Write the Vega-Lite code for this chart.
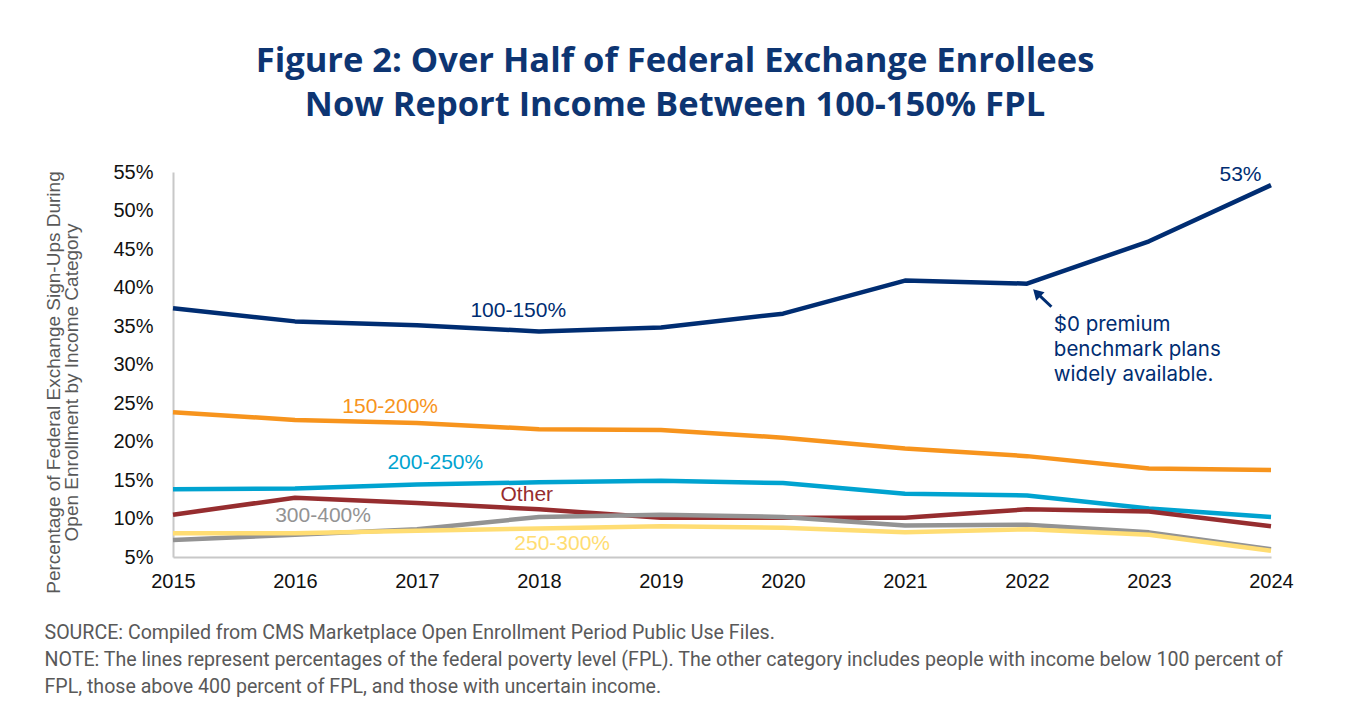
{
  "$schema": "https://vega.github.io/schema/vega-lite/v6.json",
  "width": 1098,
  "height": 385,
  "autosize": {"type": "none"},
  "padding": {"left": 173, "top": 172, "right": 78, "bottom": 168},
  "background": "white",
  "config": {"view": {"stroke": null}},
  "title": {
    "text": ["Figure 2: Over Half of Federal Exchange Enrollees", "Now Report Income Between 100-150% FPL"],
    "anchor": "middle",
    "frame": "group",
    "dx": -47,
    "offset": 39,
    "font": "Open Sans",
    "fontSize": 34.5,
    "fontWeight": "bold",
    "color": "#0D3572",
    "lineHeight": 44
  },
  "datasets": {
    "series": [
      {"group": "100-150%", "year": 2015, "pct": 37.3},
      {"group": "100-150%", "year": 2016, "pct": 35.6},
      {"group": "100-150%", "year": 2017, "pct": 35.1},
      {"group": "100-150%", "year": 2018, "pct": 34.3},
      {"group": "100-150%", "year": 2019, "pct": 34.8},
      {"group": "100-150%", "year": 2020, "pct": 36.6},
      {"group": "100-150%", "year": 2021, "pct": 40.9},
      {"group": "100-150%", "year": 2022, "pct": 40.5},
      {"group": "100-150%", "year": 2023, "pct": 46.0},
      {"group": "100-150%", "year": 2024, "pct": 53.3},
      {"group": "150-200%", "year": 2015, "pct": 23.8},
      {"group": "150-200%", "year": 2016, "pct": 22.8},
      {"group": "150-200%", "year": 2017, "pct": 22.4},
      {"group": "150-200%", "year": 2018, "pct": 21.6},
      {"group": "150-200%", "year": 2019, "pct": 21.5},
      {"group": "150-200%", "year": 2020, "pct": 20.5},
      {"group": "150-200%", "year": 2021, "pct": 19.1},
      {"group": "150-200%", "year": 2022, "pct": 18.1},
      {"group": "150-200%", "year": 2023, "pct": 16.5},
      {"group": "150-200%", "year": 2024, "pct": 16.3},
      {"group": "200-250%", "year": 2015, "pct": 13.8},
      {"group": "200-250%", "year": 2016, "pct": 13.9},
      {"group": "200-250%", "year": 2017, "pct": 14.4},
      {"group": "200-250%", "year": 2018, "pct": 14.7},
      {"group": "200-250%", "year": 2019, "pct": 14.9},
      {"group": "200-250%", "year": 2020, "pct": 14.6},
      {"group": "200-250%", "year": 2021, "pct": 13.2},
      {"group": "200-250%", "year": 2022, "pct": 13.0},
      {"group": "200-250%", "year": 2023, "pct": 11.3},
      {"group": "200-250%", "year": 2024, "pct": 10.2},
      {"group": "Other", "year": 2015, "pct": 10.5},
      {"group": "Other", "year": 2016, "pct": 12.7},
      {"group": "Other", "year": 2017, "pct": 12.0},
      {"group": "Other", "year": 2018, "pct": 11.2},
      {"group": "Other", "year": 2019, "pct": 10.1},
      {"group": "Other", "year": 2020, "pct": 10.1},
      {"group": "Other", "year": 2021, "pct": 10.1},
      {"group": "Other", "year": 2022, "pct": 11.2},
      {"group": "Other", "year": 2023, "pct": 10.9},
      {"group": "Other", "year": 2024, "pct": 9.0},
      {"group": "300-400%", "year": 2015, "pct": 7.2},
      {"group": "300-400%", "year": 2016, "pct": 7.9},
      {"group": "300-400%", "year": 2017, "pct": 8.6},
      {"group": "300-400%", "year": 2018, "pct": 10.2},
      {"group": "300-400%", "year": 2019, "pct": 10.5},
      {"group": "300-400%", "year": 2020, "pct": 10.2},
      {"group": "300-400%", "year": 2021, "pct": 9.1},
      {"group": "300-400%", "year": 2022, "pct": 9.2},
      {"group": "300-400%", "year": 2023, "pct": 8.2},
      {"group": "300-400%", "year": 2024, "pct": 6.0},
      {"group": "250-300%", "year": 2015, "pct": 8.1},
      {"group": "250-300%", "year": 2016, "pct": 8.1},
      {"group": "250-300%", "year": 2017, "pct": 8.4},
      {"group": "250-300%", "year": 2018, "pct": 8.7},
      {"group": "250-300%", "year": 2019, "pct": 9.0},
      {"group": "250-300%", "year": 2020, "pct": 8.8},
      {"group": "250-300%", "year": 2021, "pct": 8.2},
      {"group": "250-300%", "year": 2022, "pct": 8.6},
      {"group": "250-300%", "year": 2023, "pct": 7.9},
      {"group": "250-300%", "year": 2024, "pct": 5.8}
    ],
    "labels": [
      {"group": "100-150%", "text": "100-150%", "year": 2017.83, "pct": 36.9},
      {"group": "100-150%", "text": "53%", "year": 2023.75, "pct": 54.6},
      {"group": "150-200%", "text": "150-200%", "year": 2016.78, "pct": 24.5},
      {"group": "200-250%", "text": "200-250%", "year": 2017.15, "pct": 17.2},
      {"group": "Other", "text": "Other", "year": 2017.9, "pct": 13.05},
      {"group": "300-400%", "text": "300-400%", "year": 2016.23, "pct": 10.3},
      {"group": "250-300%", "text": "250-300%", "year": 2018.19, "pct": 6.7}
    ],
    "note": [
      {"group": "100-150%", "text": "$0 premium\nbenchmark plans\nwidely available.", "year": 2022.22, "pct": 36.4}
    ],
    "arrow": [
      {"group": "100-150%", "year": 2022.2, "pct": 37.5, "year2": 2022.08, "pct2": 39.3}
    ]
  },
  "encoding": {
    "x": {
      "field": "year",
      "type": "quantitative",
      "scale": {"domain": [2015, 2024], "nice": false, "zero": false},
      "axis": {
        "values": [2015, 2016, 2017, 2018, 2019, 2020, 2021, 2022, 2023, 2024],
        "format": "d",
        "grid": false,
        "ticks": false,
        "labelFlush": false,
        "labelOverlap": false,
        "labelFont": "Liberation Sans",
        "labelFontSize": 20,
        "labelColor": "#111111",
        "labelPadding": 14,
        "domainColor": "#c8c8c8",
        "domainWidth": 2,
        "title": ["SOURCE: Compiled from CMS Marketplace Open Enrollment Period Public Use Files.", "NOTE: The lines represent percentages of the federal poverty level (FPL). The other category includes people with income below 100 percent of", "FPL, those above 400 percent of FPL, and those with uncertain income."],
        "titleFont": "Roboto",
        "titleFontSize": 19.6,
        "titleFontWeight": "normal",
        "titleColor": "#595959",
        "titleAlign": "left",
        "titleAnchor": "start",
        "titleBaseline": "top",
        "titleX": -129,
        "titleY": 66,
        "titleLineHeight": 27
      }
    },
    "y": {
      "field": "pct",
      "type": "quantitative",
      "scale": {"domain": [5, 55], "nice": false, "zero": false},
      "axis": {
        "values": [5, 10, 15, 20, 25, 30, 35, 40, 45, 50, 55],
        "labelExpr": "datum.value + '%'",
        "grid": false,
        "ticks": false,
        "labelFont": "Liberation Sans",
        "labelFontSize": 20,
        "labelColor": "#111111",
        "labelPadding": 20,
        "domainColor": "#c8c8c8",
        "domainWidth": 2,
        "title": ["Percentage of Federal Exchange Sign-Ups During", "Open Enrollment by Income Category"],
        "titleFont": "Liberation Sans",
        "titleFontSize": 19,
        "titleFontWeight": "normal",
        "titleColor": "#595959",
        "titleAlign": "center",
        "titleBaseline": "top",
        "titleX": -129,
        "titleY": 210,
        "titleLineHeight": 18
      }
    },
    "color": {
      "field": "group",
      "type": "nominal",
      "scale": {
        "domain": ["100-150%", "150-200%", "200-250%", "Other", "300-400%", "250-300%"],
        "range": ["#002D72", "#F7941D", "#00A3D0", "#962D2F", "#939393", "#FFDD73"]
      },
      "legend": null
    }
  },
  "layer": [
    {
      "data": {"name": "series"},
      "mark": {"type": "line", "strokeWidth": 4.5, "strokeJoin": "round"},
      "encoding": {"order": {"field": "year", "type": "quantitative"}}
    },
    {
      "data": {"name": "labels"},
      "mark": {"type": "text", "font": "Liberation Sans", "fontSize": 21, "align": "center", "baseline": "middle"},
      "encoding": {"text": {"field": "text"}}
    },
    {
      "data": {"name": "note"},
      "mark": {"type": "text", "font": "Inter", "fontSize": 20.5, "align": "left", "baseline": "top", "lineBreak": "\n", "lineHeight": 25},
      "encoding": {"text": {"field": "text"}}
    },
    {
      "data": {"name": "arrow"},
      "mark": {"type": "rule", "strokeWidth": 3},
      "encoding": {
        "x2": {"field": "year2"},
        "y2": {"field": "pct2"}
      }
    },
    {
      "data": {"name": "arrow"},
      "mark": {"type": "point", "shape": "triangle-up", "filled": true, "size": 140, "angle": -45, "opacity": 1},
      "encoding": {
        "x": {"field": "year2", "type": "quantitative"},
        "y": {"field": "pct2", "type": "quantitative"}
      }
    }
  ]
}
